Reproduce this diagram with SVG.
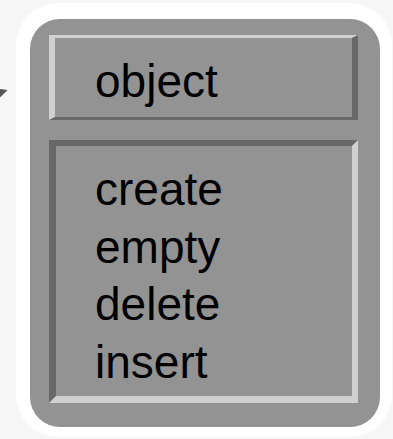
<svg xmlns="http://www.w3.org/2000/svg" width="393" height="439" viewBox="0 0 393 439">
  <style>
    .lbl { font-family: "Liberation Sans", Arial, sans-serif; font-size: 46px; fill: #000; }
    .face { fill: #939393; }
    .hi { fill: #d0d0d0; }
    .lo { fill: #686868; }
  </style>
  <rect x="0" y="0" width="393" height="439" fill="#f6f6f6"/>
  <g id="connectors">
    <polygon points="0,89 7.5,90 0,97.5" fill="#555555"/>
  </g>
  <g id="class-node">
    <rect x="16" y="3" width="376" height="434" rx="42" ry="42" fill="#ffffff"/>
    <rect x="30" y="19" width="350" height="408" rx="30" ry="30" class="face"/>
    <g id="name-box">
      <rect x="49" y="35" width="309" height="85" class="face"/>
      <polygon class="hi" points="49,35 358,35 352,38 55,38 55,117 49,120"/>
      <polygon class="lo" points="358,35 358,120 49,120 55,117 352,117 352,38"/>
      <text class="lbl" x="95" y="97">object</text>
    </g>
    <g id="methods-box">
      <rect x="49" y="140" width="309" height="263" class="face"/>
      <polygon class="lo" points="49,140 358,140 352,146 56,146 56,396 49,403"/>
      <polygon class="hi" points="358,140 358,403 49,403 56,396 352,396 352,146"/>
      <text class="lbl" x="95" y="205">create</text>
      <text class="lbl" x="95" y="262.5">empty</text>
      <text class="lbl" x="95" y="320">delete</text>
      <text class="lbl" x="95" y="377.5">insert</text>
    </g>
  </g>
</svg>
